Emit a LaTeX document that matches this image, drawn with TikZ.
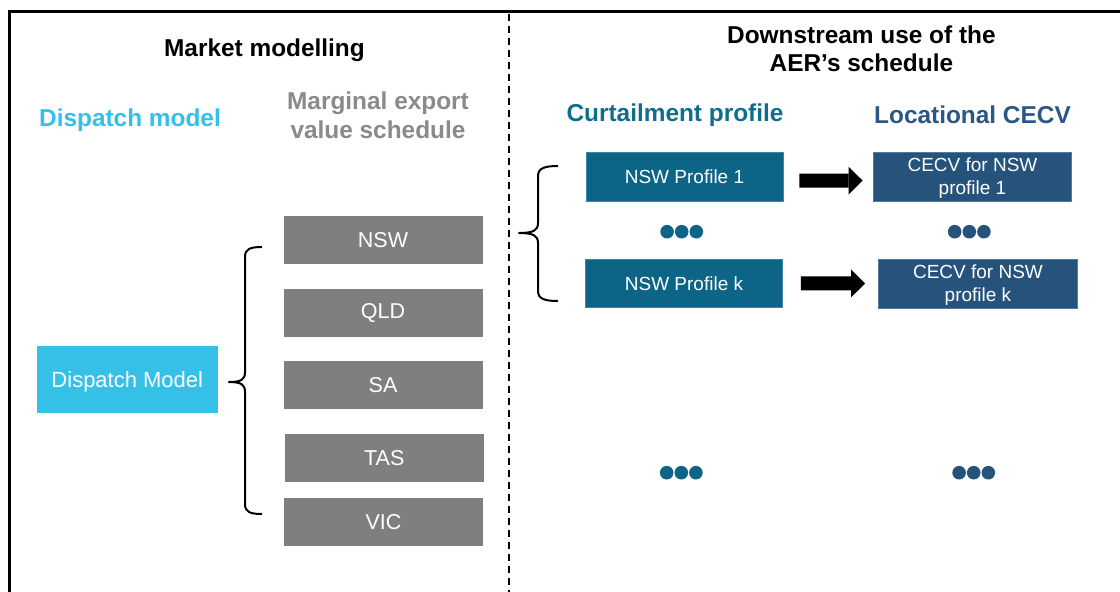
\documentclass[tikz,border=0pt]{standalone}
\usepackage{fontspec}
\setmainfont{Liberation Sans}
\usetikzlibrary{arrows.meta}

\definecolor{dispcyan}{HTML}{35C0E8}
\definecolor{mevgray}{HTML}{8A8A8A}
\definecolor{regiongray}{HTML}{7F7F7F}
\definecolor{curtteal}{HTML}{0F6E8C}
\definecolor{profteal}{HTML}{0C6586}
\definecolor{profedge}{HTML}{3F86A3}
\definecolor{cecvtitle}{HTML}{2A5886}
\definecolor{cecvfill}{HTML}{25537B}
\definecolor{cecvedge}{HTML}{5479A0}

\begin{document}
\begin{tikzpicture}[x=1pt, y=-1pt,
  heading/.style={font=\bfseries\fontsize{24.4}{29}\selectfont, align=center, anchor=base, inner sep=0pt},
  box/.style={inner sep=0pt, text=white, align=center, font=\fontsize{21.5}{25}\selectfont},
  region/.style={box, fill=regiongray, minimum width=199pt, minimum height=48pt},
  profile/.style={box, fill=profteal, draw=profedge, line width=0.8pt, minimum width=197pt, minimum height=48.5pt, font=\fontsize{19}{23}\selectfont},
  cecv/.style={box, fill=cecvfill, draw=cecvedge, line width=0.8pt, minimum width=198.5pt, minimum height=49pt, font=\fontsize{19}{23}\selectfont, text depth=-1.5pt},
  bracket/.style={draw=black, line width=2pt, line join=round},
  blockarrow/.style={draw=black, line width=14pt, -{Triangle[length=14pt, width=28pt, line width=0pt]}},
  dotrow/.style={fill=#1}
]
% canvas
\fill[white] (0,0) rectangle (1120,592);
\useasboundingbox (0,0) rectangle (1120,592);

% frame and column divider
\draw[line width=3.2pt, line join=miter] (1120,11.8) -- (9.8,11.8) -- (9.8,592);
\draw[line width=1.8pt, dash pattern=on 7pt off 5pt] (509,13.5) -- (509,592);

% column headings (multi-line nodes sit on the baseline of their last line)
\node[heading] (mm) at (264.5,56.7) {Market modelling};
\node[heading, text=dispcyan] (dmh) at (130,126) {Dispatch model};
\node[heading, text=mevgray] (mevs) at (378,138.3) {Marginal export\\value schedule};
\node[heading, font=\bfseries\fontsize{24.4}{28}\selectfont] (down) at (861.4,71) {Downstream use of the\\AER’s schedule};
\node[heading, text=curtteal] (cph) at (675,121.5) {Curtailment profile};
\node[heading, text=cecvtitle] (lch) at (972.5,123.5) {Locational CECV};

% dispatch model and regional schedules
\node[box, fill=dispcyan, minimum width=181pt, minimum height=67pt, font=\fontsize{22}{26}\selectfont, text depth=0pt] (disp) at (127.3,379.5) {Dispatch Model};
\node[region] (nsw) at (383,239.9) {NSW};
\node[region] (qld) at (383,313) {QLD};
\node[region] (sa)  at (383,385) {SA};
\node[region] (tas) at (384.3,458) {TAS};
\node[region] (vic) at (383.5,521.8) {VIC};

% brace from the dispatch model to the regions
\draw[bracket] (262,247) .. controls (250,247) and (245,249) .. (245,257)
  -- (245,372) .. controls (245,379) and (242,382) .. (229,382)
  .. controls (242,382) and (245,385) .. (245,392)
  -- (245,504) .. controls (245,512) and (250,514) .. (262,514);

% brace from the NSW schedule to its profiles
\draw[bracket] (558,166) .. controls (545,166) and (538,168) .. (538,176)
  -- (538,223) .. controls (538,230) and (534,233) .. (519,233)
  .. controls (534,233) and (538,236) .. (538,243)
  -- (538,291) .. controls (538,299) and (545,301) .. (558,301);

% curtailment profiles and their CECVs
\node[profile] (p1) at (684.5,176.8) {NSW Profile 1};
\node[profile] (pk) at (684,283.3) {NSW Profile k};
\node[cecv] (c1) at (972.5,176.5) {CECV for NSW\\profile 1};
\node[cecv] (ck) at (978,283.5) {CECV for NSW\\profile k};

\draw[blockarrow, shorten <=16pt, shorten >=10.3pt] ([yshift=-4pt]p1.east) -- ([yshift=-4pt]c1.west);
\draw[blockarrow, shorten <=18pt, shorten >=13.3pt] (pk.east) -- (ck.west);

% ellipsis dots
\foreach \cx/\cy/\col in {681.7/231.7/profteal, 969.3/231.7/cecvfill, 681.3/472.7/profteal, 973.7/472.7/cecvfill}{
  \foreach \k in {-1,0,1}{
    \fill[dotrow=\col] (\cx+\k*14.6,\cy) circle[radius=6.8pt];
  }
}
\end{tikzpicture}
\end{document}
